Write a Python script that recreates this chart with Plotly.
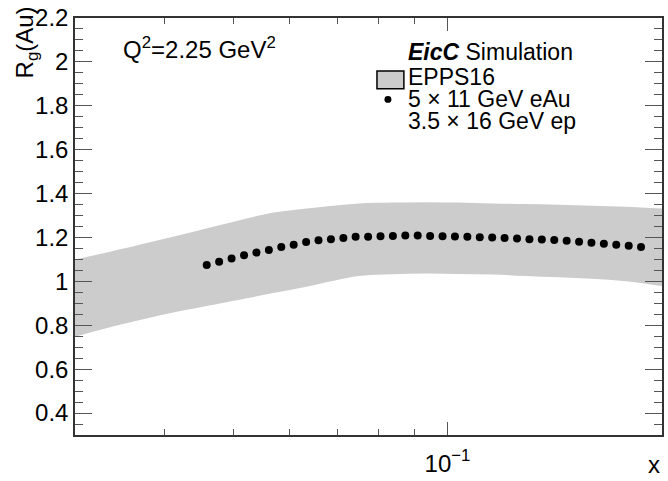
import plotly.graph_objects as go

# EPPS16 nuclear modification band for gluons in Au
band_x = [0.03, 0.0335, 0.0394, 0.0463, 0.0544, 0.0574, 0.0639, 0.0751, 0.0835,
          0.0932, 0.1037, 0.1154, 0.1288, 0.1433, 0.1594, 0.1779, 0.2]
band_upper = [1.100, 1.134, 1.188, 1.244, 1.300, 1.315, 1.333, 1.355, 1.359,
              1.361, 1.359, 1.355, 1.352, 1.349, 1.345, 1.340, 1.332]
band_lower = [0.748, 0.790, 0.845, 0.890, 0.934, 0.949, 0.978, 1.024, 1.033,
              1.036, 1.034, 1.031, 1.025, 1.019, 1.012, 1.001, 0.979]

# Simulated pseudo-data, 5 x 11 GeV eAu
sim_x = [0.04592, 0.04780, 0.04976, 0.05181, 0.05392, 0.05613, 0.05843, 0.06082,
         0.06332, 0.06590, 0.06860, 0.07141, 0.07430, 0.07736, 0.08052, 0.08381,
         0.08725, 0.09081, 0.09453, 0.09840, 0.10242, 0.10662, 0.11098, 0.11553,
         0.12025, 0.12518, 0.13030, 0.13563, 0.14119, 0.14697, 0.15298, 0.15922,
         0.16574, 0.17251, 0.17960, 0.18689]
sim_rg = [1.075, 1.089, 1.104, 1.119, 1.131, 1.143, 1.157, 1.167, 1.179, 1.187,
          1.192, 1.198, 1.203, 1.203, 1.206, 1.207, 1.209, 1.209, 1.207, 1.206,
          1.205, 1.203, 1.201, 1.200, 1.198, 1.195, 1.192, 1.191, 1.188, 1.185,
          1.180, 1.176, 1.171, 1.167, 1.162, 1.157]

# Axis ticks
x_major = [0.1]
x_major_text = ["10<sup>\u22121</sup>"]
x_minor = [0.04, 0.05, 0.06, 0.07, 0.08, 0.09]
y_major = [0.4, 0.6, 0.8, 1.0, 1.2, 1.4, 1.6, 1.8, 2.0, 2.2]
y_major_text = ["0.4", "0.6", "0.8", "1", "1.2", "1.4", "1.6", "1.8", "2", "2.2"]
y_minor = [round(0.35 + 0.05 * i, 2) for i in range(37)]

FONT = "Liberation Sans, Arial, Helvetica, sans-serif"
BAND = "#cccccc"
TICK_FS = 24
LEG_FS = 23

fig = go.Figure()
fig.add_trace(go.Scatter(x=band_x, y=band_lower, mode="lines",
                         line=dict(width=0, color=BAND, shape="spline"),
                         showlegend=False, hoverinfo="skip"))
fig.add_trace(go.Scatter(x=band_x, y=band_upper, mode="lines", fill="tonexty",
                         fillcolor=BAND,
                         line=dict(width=0, color=BAND, shape="spline"),
                         showlegend=False, hoverinfo="skip"))
fig.add_trace(go.Scatter(x=sim_x, y=sim_rg, mode="markers",
                         marker=dict(size=8, color="black"), showlegend=False))

W, H = 668, 481
L, R, T, B = 75, 4, 14, 42
pw, ph = W - L - R, H - T - B


def px(xp):
    return (xp - L) / pw


def py(yp):
    return (H - B - yp) / ph


fig.update_layout(
    width=W, height=H,
    margin=dict(l=L, r=R, t=T, b=B),
    paper_bgcolor="white", plot_bgcolor="white",
    font=dict(family=FONT, size=TICK_FS, color="black"),
    xaxis=dict(type="log", range=[-1.5229, -0.69897],
               tickmode="array", tickvals=x_major, ticktext=x_major_text,
               ticks="inside", ticklen=13, tickwidth=1, tickcolor="#555",
               showline=True, linecolor="#333", linewidth=1.5, mirror="ticks",
               showgrid=False, zeroline=False, ticklabelstandoff=6,
               tickfont=dict(size=TICK_FS),
               minor=dict(tickmode="array", tickvals=x_minor, ticks="inside",
                          ticklen=6, tickwidth=1, tickcolor="#555", showgrid=False)),
    yaxis=dict(range=[0.3, 2.2],
               tickmode="array", tickvals=y_major, ticktext=y_major_text,
               ticks="inside", ticklen=17, tickwidth=1, tickcolor="#555",
               showline=True, linecolor="#333", linewidth=1.5, mirror="ticks",
               showgrid=False, zeroline=False, ticklabelstandoff=0,
               tickfont=dict(size=TICK_FS),
               minor=dict(tickmode="array", tickvals=y_minor, ticks="inside",
                          ticklen=8, tickwidth=1, tickcolor="#555", showgrid=False)),
)

annotations = [
    dict(text="R<sub>g</sub>(Au)", x=px(26), y=py(0), textangle=-90,
         xanchor="center", yanchor="top", size=TICK_FS),
    dict(text="x", x=px(664), y=py(469), xanchor="right", yanchor="middle",
         size=TICK_FS),
    dict(text="Q<sup>2</sup>=2.25 GeV<sup>2</sup>", x=px(121), y=py(45),
         xanchor="left", yanchor="middle", size=TICK_FS),
    dict(text="<b><i>EicC</i></b> Simulation", x=px(407), y=py(49),
         xanchor="left", yanchor="middle", size=LEG_FS),
    dict(text="EPPS16", x=px(407), y=py(74), xanchor="left", yanchor="middle",
         size=LEG_FS),
    dict(text="5 \u00d7 11 GeV eAu", x=px(407), y=py(97), xanchor="left",
         yanchor="middle", size=LEG_FS),
    dict(text="3.5 \u00d7 16 GeV ep", x=px(407), y=py(119), xanchor="left",
         yanchor="middle", size=LEG_FS),
]
for a in annotations:
    fs = a.pop("size")
    a.update(xref="paper", yref="paper", showarrow=False,
             font=dict(family=FONT, size=fs, color="black"))
fig.update_layout(annotations=annotations)

# legend swatches
fig.add_shape(type="rect", xref="paper", yref="paper",
              x0=px(378), x1=px(405), y0=py(86), y1=py(68),
              fillcolor=BAND, line=dict(color="black", width=1.5))
fig.add_shape(type="circle", xref="paper", yref="paper",
              x0=px(385.5), x1=px(392.5), y0=py(100.5), y1=py(93.5),
              fillcolor="black", line=dict(color="black", width=0))

fig.write_html("out.html")
